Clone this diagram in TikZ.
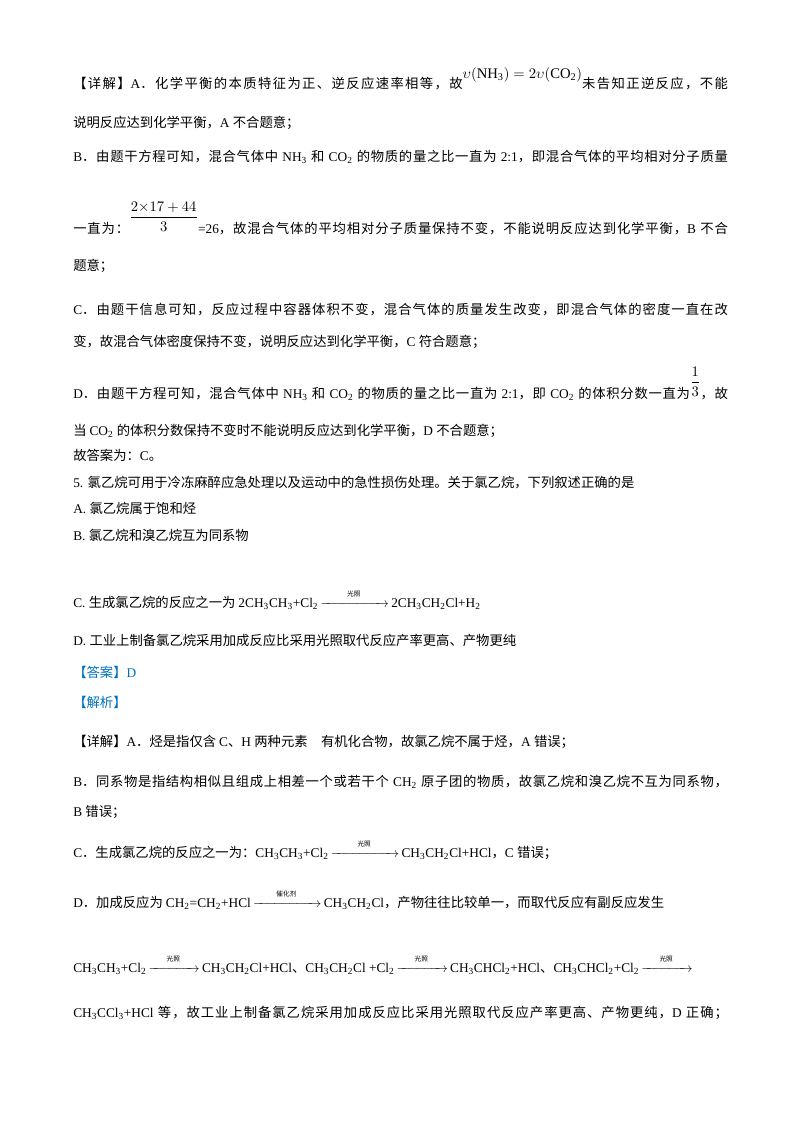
\documentclass[tikz,border=0pt]{standalone}
\usepackage{amsmath}
\usepackage{fontspec}
\setmainfont{Liberation Serif}
\newfontfamily\cjk{Noto Sans CJK SC}
\newfontfamily\lat{Liberation Serif}
\usetikzlibrary{positioning}
\XeTeXinterchartokenstate=1
\newXeTeXintercharclass\CJKcls
\makeatletter
\count@="3000 \loop\ifnum\count@<"3100 \XeTeXcharclass\count@=\CJKcls\advance\count@ 1 \repeat
\count@="4E00 \loop\ifnum\count@<"A000 \XeTeXcharclass\count@=\CJKcls\advance\count@ 1 \repeat
\count@="FF00 \loop\ifnum\count@<"FFF0 \XeTeXcharclass\count@=\CJKcls\advance\count@ 1 \repeat
\makeatother
\XeTeXinterchartoks 0 \CJKcls = {\cjk}
\XeTeXinterchartoks 4095 \CJKcls = {\cjk}
\XeTeXinterchartoks \CJKcls 0 = {\lat}
\XeTeXinterchartoks 4095 0 = {\lat}
\XeTeXinterchartoks \CJKcls \CJKcls = {\hskip 0pt plus 1pt}
\definecolor{tagblue}{RGB}{0,112,192}
\newcommand\ts[1]{\textsubscript{#1}}
\newcommand\rxn[2][45pt]{\,$\xrightarrow{\makebox[#1]{\raisebox{2.5pt}{\fontsize{5}{5}\selectfont #2}}}$\,}
\newcommand\jline[1]{\makebox[491pt][s]{\spaceskip=3pt plus 0.3pt\relax #1}}
\tikzset{ln/.style={anchor=base west,inner sep=0pt,font=\fontsize{10}{12}\selectfont}}
\begin{document}
\begin{tikzpicture}[x=0.75pt,y=-0.75pt]
\useasboundingbox (0,0) rectangle (800,1132);
% first answer block
\node[ln] (l1) at (73,88) {\jline{【详解】A．化学平衡的本质特征为正、逆反应速率相等，故\raisebox{7pt}{\fontsize{11}{11}\selectfont$\upsilon(\mathrm{NH_3})=2\upsilon(\mathrm{CO_2})$}未告知正逆反应，不能}};
\node[ln] (l2) at (73,127) {说明反应达到化学平衡，A 不合题意；};
\node[ln] (l3) at (73,161) {\jline{B．由题干方程可知，混合气体中 NH\ts{3} 和 CO\ts{2} 的物质的量之比一直为 2:1，即混合气体的平均相对分子质量}};
\node[ln] (l4) at (73,233) {\jline{一直为：\raisebox{9pt}{\fontsize{11}{11}\selectfont$\genfrac{}{}{0.5pt}{0}{2{\times}17+44}{3}$}=26，故混合气体的平均相对分子质量保持不变，不能说明反应达到化学平衡，B 不合}};
\node[ln] (l5) at (73,270) {题意；};
\node[ln] (l6) at (73,314) {\jline{C．由题干信息可知，反应过程中容器体积不变，混合气体的质量发生改变，即混合气体的密度一直在改}};
\node[ln] (l7) at (73,346) {变，故混合气体密度保持不变，说明反应达到化学平衡，C 符合题意；};
\node[ln] (l8) at (73,398) {\jline{D．由题干方程可知，混合气体中 NH\ts{3} 和 CO\ts{2} 的物质的量之比一直为 2:1，即 CO\ts{2} 的体积分数一直为\raisebox{9pt}{\fontsize{11}{11}\selectfont$\genfrac{}{}{0.5pt}{0}{1}{3}$}，故}};
\node[ln] (l9) at (73,435) {当 CO\ts{2} 的体积分数保持不变时不能说明反应达到化学平衡，D 不合题意；};
\node[ln] (l10) at (73,460) {故答案为：C。};
% question 5
\node[ln] (l11) at (73,487) {5. 氯乙烷可用于冷冻麻醉应急处理以及运动中的急性损伤处理。关于氯乙烷，下列叙述正确的是};
\node[ln] (l12) at (73,513) {A. 氯乙烷属于饱和烃};
\node[ln] (l13) at (73,540) {B. 氯乙烷和溴乙烷互为同系物};
\node[ln] (l14) at (73,607) {C. 生成氯乙烷的反应之一为 2CH\ts{3}CH\ts{3}+Cl\ts{2}\rxn{光照}2CH\ts{3}CH\ts{2}Cl+H\ts{2}};
\node[ln] (l15) at (73,645) {D. 工业上制备氯乙烷采用加成反应比采用光照取代反应产率更高、产物更纯};
\node[ln,text=tagblue] (l16) at (73,677) {【答案】D};
\node[ln,text=tagblue] (l17) at (73,707) {【解析】};
% analysis
\node[ln] (l18) at (73,746) {【详解】A．烃是指仅含 C、H 两种元素\quad 有机化合物，故氯乙烷不属于烃，A 错误；};
\node[ln] (l19) at (73,786) {\jline{B．同系物是指结构相似且组成上相差一个或若干个 CH\ts{2} 原子团的物质，故氯乙烷和溴乙烷不互为同系物，}};
\node[ln] (l20) at (73,816) {B 错误；};
\node[ln] (l21) at (73,857) {C．生成氯乙烷的反应之一为：CH\ts{3}CH\ts{3}+Cl\ts{2}\rxn{光照}CH\ts{3}CH\ts{2}Cl+HCl，C 错误；};
\node[ln] (l22) at (73,907) {D．加成反应为 CH\ts{2}=CH\ts{2}+HCl\rxn{催化剂}CH\ts{3}CH\ts{2}Cl，产物往往比较单一，而取代反应有副反应发生};
\node[ln] (l23) at (73,972) {CH\ts{3}CH\ts{3}+Cl\ts{2}\rxn[32pt]{光照}CH\ts{3}CH\ts{2}Cl+HCl、CH\ts{3}CH\ts{2}Cl +Cl\ts{2}\rxn[32pt]{光照}CH\ts{3}CHCl\ts{2}+HCl、CH\ts{3}CHCl\ts{2}+Cl\ts{2}\rxn[32pt]{光照}};
\node[ln] (l24) at (73,1017) {\jline{CH\ts{3}CCl\ts{3}+HCl 等，故工业上制备氯乙烷采用加成反应比采用光照取代反应产率更高、产物更纯，D 正确；}};
\end{tikzpicture}
\end{document}
